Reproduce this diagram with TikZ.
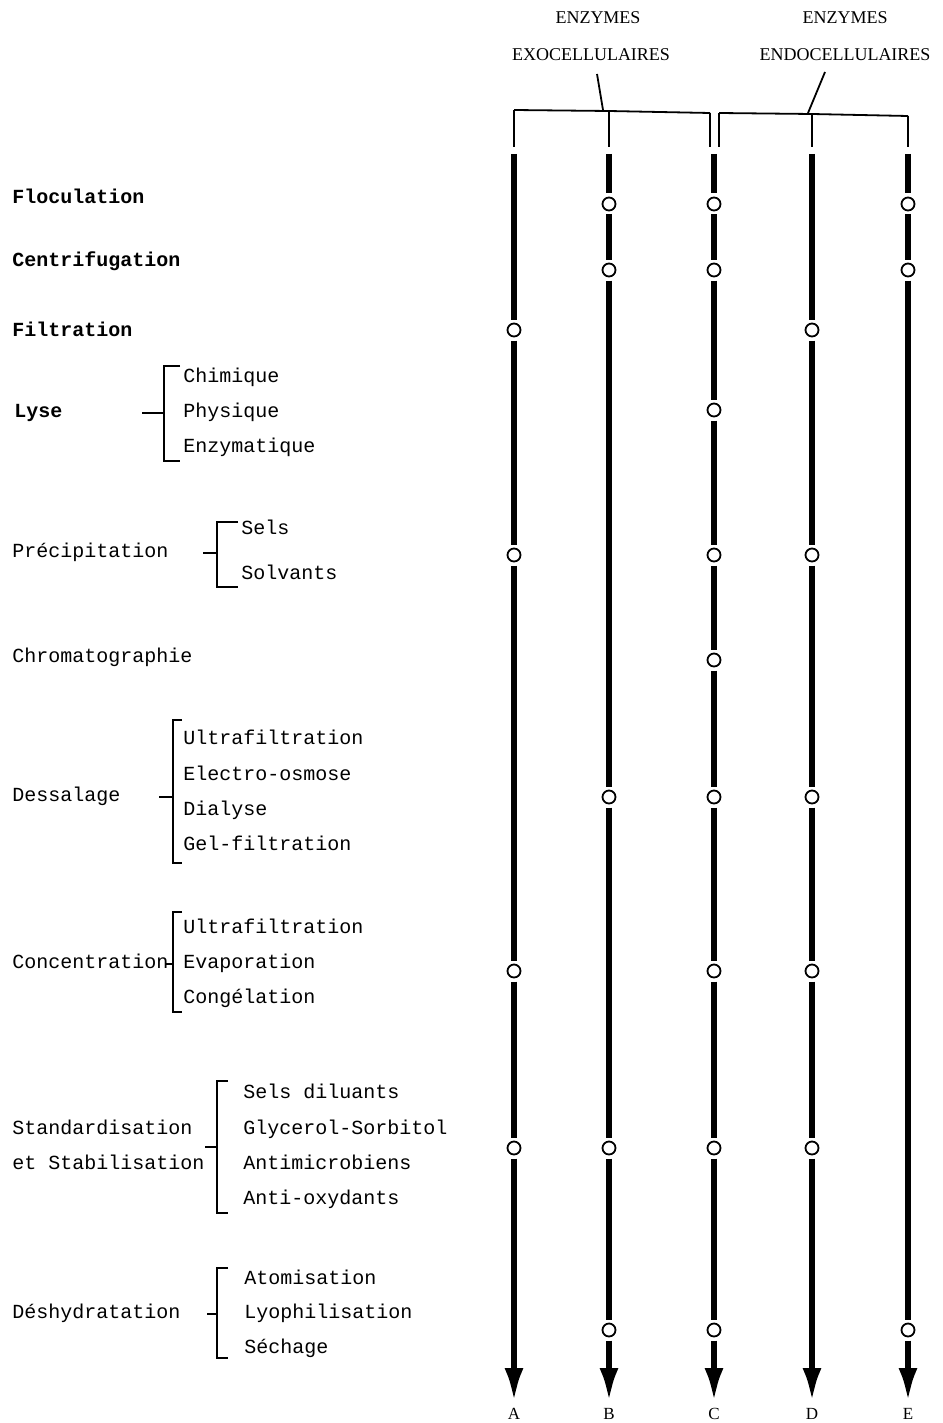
\documentclass[tikz,border=0pt]{standalone}
\usepackage{fontspec}
\setmainfont{Liberation Serif}
\setmonofont{Liberation Mono}
\usetikzlibrary{arrows.meta}

% vertical positions of the stages on the columns
\def\yfloc{204}\def\ycent{270}\def\yfilt{330}\def\ylyse{410}\def\yprec{555}
\def\ychrom{660}\def\ydess{797}\def\yconc{971}\def\ystab{1148}\def\ydesh{1330}

\begin{document}
\begin{tikzpicture}[x=1pt, y=-1pt, line width=0.6pt,
  every node/.style={inner sep=0pt},
  oplabel/.style={anchor=west, text height=12pt, text depth=4pt,
    font=\ttfamily\fontsize{20}{22}\selectfont},
  opmain/.style={oplabel, font=\ttfamily\bfseries\fontsize{20}{22}\selectfont},
  head/.style={font=\rmfamily\fontsize{18}{20}\selectfont},
  collabel/.style={font=\rmfamily\fontsize{17}{18}\selectfont},
  stage/.style={circle, draw, line width=1.8pt, minimum size=13pt, outer sep=4pt},
  colline/.style={line width=6pt},
  brace/.style={line width=2.2pt},
  thinline/.style={line width=1.8pt}]

\useasboundingbox (0,0) rectangle (942,1423);

% headings over the two groups of columns
\node[head] (exo1) at (598,18) {ENZYMES};
\node[head] (exo2) at (591,55) {EXOCELLULAIRES};
\node[head] (endo1) at (845,18) {ENZYMES};
\node[head] (endo2) at (845,55) {ENDOCELLULAIRES};
\coordinate (exo-root) at (597,74);  \coordinate (exo-tip) at (603,110);
\coordinate (endo-root) at (825,72); \coordinate (endo-tip) at (808,113);
\draw[thinline] (exo-root) -- (exo-tip);
\draw[thinline] (endo-root) -- (endo-tip);

% top bracket joining the columns
\foreach \c/\x/\y in {A/514/110, B/609/111, C1/710/113, C2/719/113, D/812/114, E/908/116}{
  \coordinate (\c-br) at (\x,\y);
  \coordinate (\c-foot) at (\x,147);
  \draw[thinline] (\c-br) -- (\c-foot);
}
\draw[thinline] (A-br) -- (B-br) -- (C1-br);
\draw[thinline] (C2-br) -- (D-br) -- (E-br);

% the five columns, broken at each stage
\foreach \c/\x/\rows/\last in {A/514/{filt,prec,conc,stab}/stab,
    B/609/{floc,cent,dess,stab,desh}/desh,
    C/714/{floc,cent,lyse,prec,chrom,dess,conc,stab,desh}/desh,
    D/812/{filt,prec,dess,conc,stab}/stab,
    E/908/{floc,cent,desh}/desh}{
  \coordinate (\c-top) at (\x,154);
  \coordinate (\c-bot) at (\x,1402);
  \foreach \r [remember=\r as \prev (initially top)] in \rows {
    \node[stage] (\c-\r) at (\x,\csname y\r\endcsname) {};
    \draw[colline] (\c-\prev) -- (\c-\r);
  }
  \draw[colline, -{Latex[length=34pt, width=19pt]}] (\c-\last) -- (\c-bot);
  \node[collabel] (\c-name) at (\x,1414) {\c};
}

% operations
\foreach \n/\t/\x/\y in {floc/Floculation/12/200, cent/Centrifugation/12/262,
    filt/Filtration/12/332, lyse/Lyse/14/413}
  \node[opmain] (\n) at (\x,\y) {\t};
\foreach \n/\t/\y in {prec/Précipitation/553, chrom/Chromatographie/658,
    dess/Dessalage/797, conc/Concentration/964, stab1/Standardisation/1130,
    stab2/et Stabilisation/1165, desh/Déshydratation/1314}
  \node[oplabel] (\n) at (12,\y) {\t};

% details of each operation
\foreach \t/\x/\y [count=\i] in {Chimique/183/378, Physique/183/413, Enzymatique/183/448,
    Sels/241/530, Solvants/241/575,
    Ultrafiltration/183/740, Electro-osmose/183/776, Dialyse/183/811, Gel-filtration/183/846,
    Ultrafiltration/183/929, Evaporation/183/964, Congélation/183/999,
    Sels diluants/243/1094, Glycerol-Sorbitol/243/1130, Antimicrobiens/243/1165,
    Anti-oxydants/243/1200,
    Atomisation/244/1280, Lyophilisation/244/1314, Séchage/244/1349}
  \node[oplabel] (item-\i) at (\x,\y) {\t};

% brackets
\foreach \x/\top/\bot/\tick/\ds/\dy in {164/366/461/16/142/413, 217/522/587/21/203/553,
    173/720/863/9/159/797, 173/912/1012/9/166/964,
    217/1081/1213/11/205/1147, 217/1268/1358/11/207/1314}{
  \draw[brace] (\x+\tick,\top) -- (\x,\top) -- (\x,\bot) -- (\x+\tick,\bot);
  \draw[brace] (\ds,\dy) -- (\x,\dy);
}

\end{tikzpicture}
\end{document}
